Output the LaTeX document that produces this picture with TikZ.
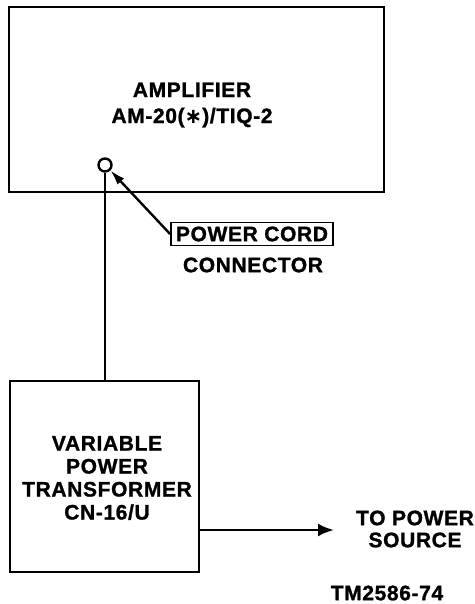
\documentclass[tikz,border=0pt]{standalone}
\usepackage{fontspec}
\setmainfont{Liberation Sans}[BoldFeatures={FakeBold=1.2,LetterSpace=3}]
\newfontfamily\symfont{DejaVu Sans}
\usetikzlibrary{arrows.meta,positioning}
\tikzstyle{arrow} = [-{Latex[length=16pt,width=13pt]}, line width=2.6pt]
\tikzstyle{ptr} = [-{Latex[length=15pt,width=9pt]}, line width=2.4pt]
\tikzset{
  block/.style={draw, line width=2.8pt, inner sep=0pt},
  caption/.style={font=\bfseries\fontsize{21}{23}\selectfont, align=center, inner sep=0pt}
}

\begin{document}
\begin{tikzpicture}[x=1pt,y=-1pt]
\useasboundingbox (0,0) rectangle (474,604);

% Bloques
\node[block, minimum width=375pt, minimum height=185pt] (amp) at (196.5,99.5) {};
\node[block, minimum width=189pt, minimum height=191pt] (var) at (104.5,476.5) {};

% Textos
\node[caption] (amptext) at (192,105) {AMPLIFIER\\[3pt]AM-20({\symfont\bfseries ∗})/TIQ-2};
\node[caption] (vartext) at (107,478) {VARIABLE\\POWER\\TRANSFORMER\\CN-16/U};

% Conector
\node[draw, circle, line width=2.4pt, minimum size=13pt, inner sep=0pt] (jack) at (105,165) {};
\draw[line width=2.8pt] (jack.south) -- (jack.south |- var.north);

% Etiqueta
\node[caption, draw, line width=1.8pt, inner xsep=5pt, inner ysep=4pt] (cord) at (252,234) {POWER CORD};
\node[caption] (conn) at (253,265) {CONNECTOR};
\draw[ptr] (cord.west) -- (jack.-45);

% Salida
\coordinate (src) at (334,530);
\draw[arrow] (var.east |- src) -- (src);
\node[caption, font=\bfseries\fontsize{21}{22}\selectfont] (power) at (415,529) {TO POWER\\SOURCE};

\node[caption] (tm) at (387,593) {TM2586-74};

\end{tikzpicture}
\end{document}
